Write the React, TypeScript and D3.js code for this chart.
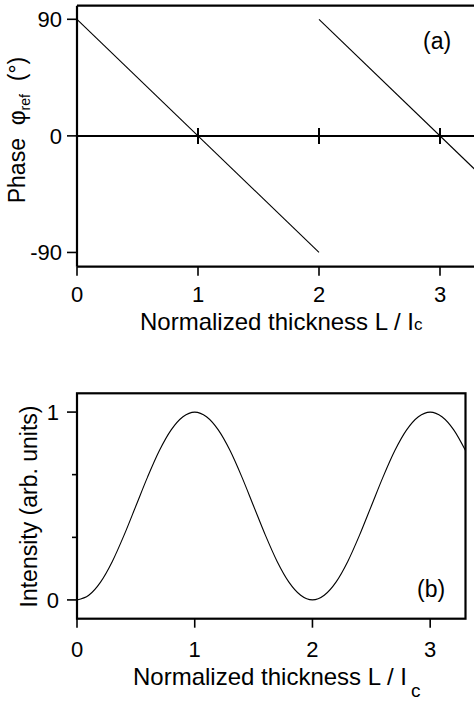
import React from "react";
import * as d3 from "d3";

const xTicks = [0, 1, 2, 3];
const phaseTicks = [90, 0, -90];
const phaseTickLabels = ["90", "0", "-90"];
const intensityTicks = [0, 1];
const intensityTickLabels = ["0", "1"];
const intensityMinorTicks = [0.333, 0.667];

const phaseLineAx = [0, 2];
const phaseLineAy = [90, -90];
const phaseLineBx = [2, 3.3];
const phaseLineBy = [90, -27];

const thickness = [
  0, 0.1, 0.2, 0.3, 0.4, 0.5, 0.6, 0.7, 0.8, 0.9, 1.0, 1.1, 1.2, 1.3, 1.4, 1.5, 1.6,
  1.7, 1.8, 1.9, 2.0, 2.1, 2.2, 2.3, 2.4, 2.5, 2.6, 2.7, 2.8, 2.9, 3.0, 3.1, 3.2, 3.3,
];
const intensity = [
  0, 0.025, 0.095, 0.205, 0.345, 0.5, 0.655, 0.795, 0.905, 0.975, 1.0, 0.975, 0.905,
  0.795, 0.655, 0.5, 0.345, 0.205, 0.095, 0.025, 0, 0.025, 0.095, 0.205, 0.345, 0.5,
  0.655, 0.795, 0.905, 0.975, 1.0, 0.975, 0.905, 0.795,
];

const FONT = "'Liberation Sans', Arial, Helvetica, sans-serif";

export default function App() {
  // Panel (a)
  const xa = d3.scaleLinear().domain([0, 3.3]).range([77, 476.3]);
  const ya = d3.scaleLinear().domain([-101, 100.5]).range([266.7, 5.7]);
  // Panel (b)
  const xb = d3.scaleLinear().domain([0, 3.3]).range([77, 465.5]);
  const yb = d3.scaleLinear().domain([-0.1, 1.1]).range([618.7, 393.3]);

  const lineA = d3
    .line<number>()
    .x((_, i) => xa(phaseLineAx[i]))
    .y((d) => ya(d));
  const lineB = d3
    .line<number>()
    .x((_, i) => xa(phaseLineBx[i]))
    .y((d) => ya(d));
  const lineI = d3
    .line<number>()
    .x((_, i) => xb(thickness[i]))
    .y((d) => yb(d))
    .curve(d3.curveMonotoneX);

  const [ax0, ax1] = xa.range();
  const [ay0, ay1] = ya.range(); // bottom, top
  const [bx0, bx1] = xb.range();
  const [by0, by1] = yb.range();

  return (
    <svg
      width={474}
      height={702}
      style={{ position: "absolute", left: 0, top: 0, background: "#fff" }}
      fontFamily={FONT}
    >
      <rect x={0} y={0} width={474} height={702} fill="#fff" />
      {/* ---------- Panel (a) ---------- */}
      <g>
        <path d={lineA(phaseLineAy) || ""} fill="none" stroke="#000" strokeWidth={1.1} />
        <path d={lineB(phaseLineBy) || ""} fill="none" stroke="#000" strokeWidth={1.1} />
        {/* zero line with crossing ticks */}
        <line x1={ax0} x2={ax1} y1={ya(0)} y2={ya(0)} stroke="#000" strokeWidth={2} />
        {xTicks.slice(1).map((t) => (
          <line key={"z" + t} x1={xa(t)} x2={xa(t)} y1={ya(0) - 8} y2={ya(0) + 8} stroke="#000" strokeWidth={2} />
        ))}
        {/* frame */}
        <line x1={ax0} x2={ax1} y1={ay1} y2={ay1} stroke="#000" strokeWidth={2.2} />
        <line x1={ax0} x2={ax1} y1={ay0} y2={ay0} stroke="#000" strokeWidth={2.2} />
        <line x1={ax0} x2={ax0} y1={ay1} y2={ay0} stroke="#000" strokeWidth={2.2} />
        <line x1={ax1} x2={ax1} y1={ay1} y2={ay0} stroke="#000" strokeWidth={2.2} />
        {/* y ticks */}
        {phaseTicks.map((t, i) => (
          <g key={"ya" + t}>
            <line x1={ax0 - 10} x2={ax0} y1={ya(t)} y2={ya(t)} stroke="#000" strokeWidth={1.6} />
            <text x={62} y={ya(t)} dy="0.36em" textAnchor="end" fontSize={22}>
              {phaseTickLabels[i]}
            </text>
          </g>
        ))}
        {/* x ticks */}
        {xTicks.map((t) => (
          <g key={"xa" + t}>
            <line x1={xa(t)} x2={xa(t)} y1={ay0} y2={ay0 + 9} stroke="#000" strokeWidth={1.6} />
            <text x={xa(t)} y={302} textAnchor="middle" fontSize={22}>
              {t}
            </text>
          </g>
        ))}
        <text x={140} y={330} fontSize={24}>
          Normalized thickness L / I
          <tspan fontSize={17}>c</tspan>
        </text>
        <text transform="translate(25,130) rotate(-90)" textAnchor="middle" fontSize={23}>
          Phase{"\u00a0\u00a0"}φ
          <tspan fontSize={14} dy={5}>ref</tspan>
          <tspan dy={-5}>{"\u00a0\u00a0"}(°)</tspan>
        </text>
        <text x={423} y={49} fontSize={23}>
          (a)
        </text>
      </g>

      {/* ---------- Panel (b) ---------- */}
      <g>
        <path d={lineI(intensity) || ""} fill="none" stroke="#000" strokeWidth={1.1} />
        <rect x={bx0} y={by1} width={bx1 - bx0} height={by0 - by1} fill="none" stroke="#000" strokeWidth={2.2} />
        {intensityTicks.map((t, i) => (
          <g key={"yb" + t}>
            <line x1={bx0 - 10} x2={bx0} y1={yb(t)} y2={yb(t)} stroke="#000" strokeWidth={1.6} />
            <text x={59} y={yb(t)} dy="0.36em" textAnchor="end" fontSize={22}>
              {intensityTickLabels[i]}
            </text>
          </g>
        ))}
        {intensityMinorTicks.map((t) => (
          <line key={"ybm" + t} x1={bx0 - 5} x2={bx0} y1={yb(t)} y2={yb(t)} stroke="#000" strokeWidth={1.6} />
        ))}
        {xTicks.map((t) => (
          <g key={"xb" + t}>
            <line x1={xb(t)} x2={xb(t)} y1={by0} y2={by0 + 9} stroke="#000" strokeWidth={1.6} />
            <text x={xb(t)} y={657} textAnchor="middle" fontSize={22}>
              {t}
            </text>
          </g>
        ))}
        <text x={133} y={685} fontSize={24}>
          Normalized thickness L / I
          <tspan fontSize={19} dx={4} dy={12}>c</tspan>
        </text>
        <text transform="translate(37,506.5) rotate(-90)" textAnchor="middle" fontSize={23}>
          Intensity (arb. units)
        </text>
        <text x={417} y={597} fontSize={23}>
          (b)
        </text>
      </g>
    </svg>
  );
}
